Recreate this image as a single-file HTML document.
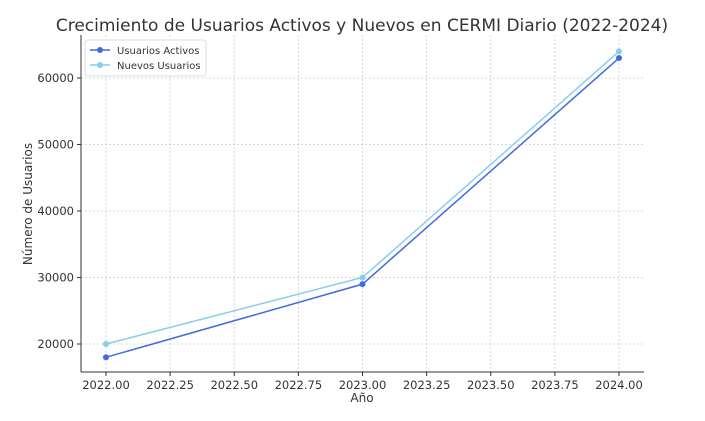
<!DOCTYPE html>
<html><head><meta charset="utf-8"><style>
body{margin:0;background:#fff;}
svg{display:block;font-family:"DejaVu Sans","Liberation Sans",sans-serif;}
</style></head><body>
<svg id="chart" width="705" height="421" viewBox="0 0 705 421">
<text x="362" y="31" text-anchor="middle" font-size="17" fill="#333">Crecimiento de Usuarios Activos y Nuevos en CERMI Diario (2022-2024)</text>
<g id="grid"></g><g id="axes"></g><g id="series"></g>
<text x="362" y="402" text-anchor="middle" font-size="12" fill="#333">Año</text>
<text transform="translate(32,204) rotate(-90)" text-anchor="middle" font-size="12" fill="#333">Número de Usuarios</text>
<g>
<rect x="85" y="40" width="121" height="36" rx="3" fill="#fff" stroke="#ddd"/>
<line x1="90" y1="50" x2="110" y2="50" stroke="#4169e1" stroke-width="1.5"/><circle cx="100" cy="50" r="3" fill="#4169e1"/>
<text x="117" y="54" font-size="10" fill="#333">Usuarios Activos</text>
<line x1="90" y1="65" x2="110" y2="65" stroke="#87ceeb" stroke-width="1.5"/><circle cx="100" cy="65" r="3" fill="#87ceeb"/>
<text x="117" y="69" font-size="10" fill="#333">Nuevos Usuarios</text>
</g>
</svg>
<script>
const years=[2022,2023,2024];
const activos=[18000,29000,63000];
const nuevos=[20000,30000,64000];
const xTicks=[2022,2022.25,2022.5,2022.75,2023,2023.25,2023.5,2023.75,2024];
const yTicks=[20000,30000,40000,50000,60000];
const NS="http://www.w3.org/2000/svg";
const L=81,R=644,T=35,B=372;
const xs=v=>106+(v-2022)*256.5;
const ys=v=>344-(v-20000)*0.00665;
function mk(tag,attrs,parent){const e=document.createElementNS(NS,tag);for(const k in attrs)e.setAttribute(k,attrs[k]);parent.appendChild(e);return e;}
const grid=document.getElementById('grid'),axes=document.getElementById('axes'),series=document.getElementById('series');
xTicks.forEach(t=>{const x=xs(t);
 const g=mk('line',{x1:x,x2:x,y1:T,y2:B,stroke:'#ccc','stroke-dasharray':'2,2','stroke-width':0.8},grid);
 
 
 mk('line',{x1:x,x2:x,y1:B,y2:B+4,stroke:'#333'},axes);
 const tx=mk('text',{x:x,y:B+17,'text-anchor':'middle','font-size':11.5,fill:'#333'},axes);
 tx.textContent=t.toFixed(2);
 
 });
yTicks.forEach(t=>{const y=ys(t);
 const g=mk('line',{x1:L,x2:R,y1:y,y2:y,stroke:'#ccc','stroke-dasharray':'2,2','stroke-width':0.8},grid);
 
 
 mk('line',{x1:L-4,x2:L,y1:y,y2:y,stroke:'#333'},axes);
 const tx=mk('text',{x:L-7,y:y+4,'text-anchor':'end','font-size':11.5,fill:'#333'},axes);
 tx.textContent=t;
 
 });
mk('line',{x1:L,x2:L,y1:T,y2:B,stroke:'#333'},axes);
mk('line',{x1:L,x2:R,y1:B,y2:B,stroke:'#333'},axes);
function draw(vals,color,name){
 const p=mk('polyline',{points:vals.map((v,i)=>xs(years[i])+','+ys(v)).join(' '),fill:'none',stroke:color,'stroke-width':1.5},series);
 
 
 vals.forEach((v,i)=>{const c=mk('circle',{cx:xs(years[i]),cy:ys(v),r:3,fill:color},series);
  
  });
}
draw(nuevos,'#87ceeb','nuevos-usuarios');
draw(activos,'#4169e1','usuarios-activos');
</script>
</body></html>
